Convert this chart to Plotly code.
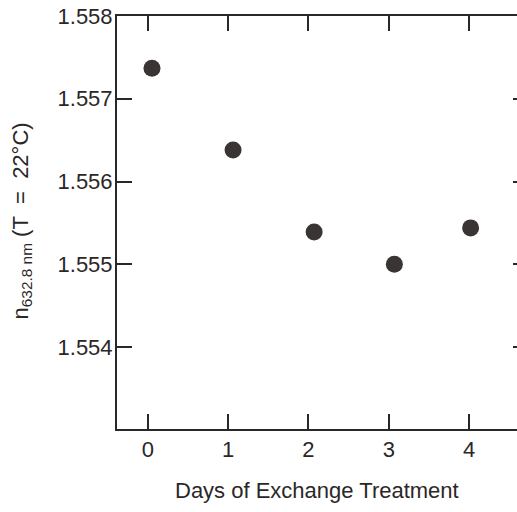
import plotly.graph_objects as go

days = [0.05, 1.06, 2.07, 3.07, 4.02]
n_values = [1.55737, 1.55638, 1.55539, 1.55500, 1.55544]
x_ticks = [0, 1, 2, 3, 4]
y_ticks = [1.554, 1.555, 1.556, 1.557, 1.558]

ink = "#2b2727"
fnt = dict(family="Liberation Sans, Arial, sans-serif", size=22, color=ink)

fig = go.Figure()
fig.add_trace(go.Scatter(
    x=days, y=n_values, mode="markers",
    marker=dict(size=17, color="#3a3434", line=dict(width=0)),
    showlegend=False,
))
# invisible trace carrying the top and right tick axes
fig.add_trace(go.Scatter(x=days, y=n_values, xaxis="x2", yaxis="y2", mode="markers",
                         marker=dict(opacity=0), showlegend=False, hoverinfo="skip"))

xr = [-0.386, 4.598]
yr = [1.55301, 1.558]
fig.update_layout(
    width=517, height=512,
    margin=dict(l=117, r=0, t=16, b=83, autoexpand=False),
    paper_bgcolor="white", plot_bgcolor="white",
    font=fnt,
    xaxis=dict(range=xr, tickvals=x_ticks, ticks="inside", ticklen=15,
               tickwidth=2, tickcolor=ink, showline=True, linewidth=2, linecolor=ink,
               showgrid=False, zeroline=False, tickfont=fnt,
               automargin=False, ticklabeloverflow="allow"),
    xaxis2=dict(range=xr, tickvals=x_ticks, overlaying="x", side="top", ticks="inside",
                ticklen=15, tickwidth=2, tickcolor=ink, showline=True, linewidth=2,
                linecolor=ink, showticklabels=False, showgrid=False, zeroline=False,
                automargin=False),
    yaxis=dict(range=yr, tickvals=y_ticks, tickformat=".3f", ticks="inside", ticklen=15,
               tickwidth=2, tickcolor=ink, showline=True, linewidth=2, linecolor=ink,
               showgrid=False, zeroline=False, tickfont=fnt, automargin=False,
               ticklabelstandoff=-2, ticklabeloverflow="allow"),
    yaxis2=dict(range=yr, tickvals=y_ticks, overlaying="y", side="right", ticks="inside",
                ticklen=4, tickwidth=2, tickcolor=ink, showline=False, showticklabels=False,
                showgrid=False, zeroline=False, automargin=False),
    annotations=[
        dict(text="Days of Exchange Treatment", xref="paper", yref="paper",
             x=0.5, y=-0.148, xanchor="center", yanchor="middle", showarrow=False,
             font=dict(family=fnt["family"], size=22, color=ink)),
        dict(text="n<sub>632.8 nm</sub> (T\u00a0 =\u00a0 22°C)", xref="paper", yref="paper",
             x=-0.2375, y=0.5025, xanchor="center", yanchor="middle", textangle=-90,
             showarrow=False, font=dict(family=fnt["family"], size=22, color=ink)),
    ],
)
fig.write_html(
    "out.html",
    config={"displayModeBar": False},
    post_script="document.body.style.margin='0';document.body.style.overflow='hidden';",
)
